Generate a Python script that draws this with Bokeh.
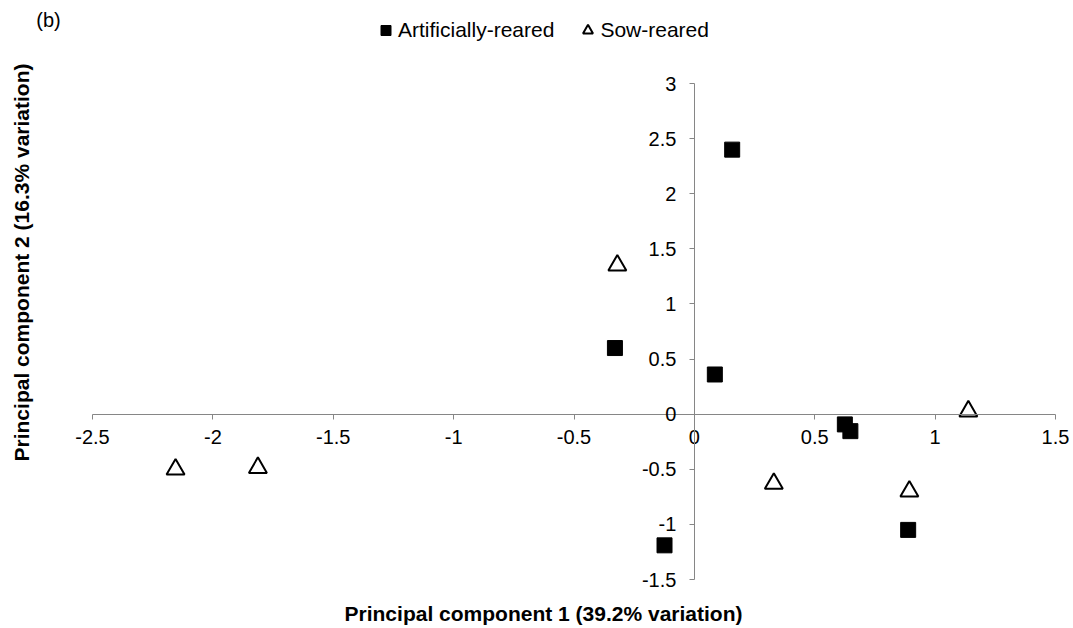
from bokeh.plotting import figure
from bokeh.models import (FixedTicker, Legend, LegendItem, Label, ColumnDataSource, Range1d)
from bokeh.embed import file_html
from bokeh.resources import INLINE
import math

# ---- data ----
series_names = ["Artificially-reared", "Sow-reared"]
art_x = [0.157, -0.33, 0.085, 0.625, 0.648, -0.124, 0.888]
art_y = [2.40, 0.60, 0.36, -0.093, -0.154, -1.19, -1.05]
sow_x = [-0.32, -2.155, -1.813, 0.33, 0.893, 1.138]
sow_y = [1.35, -0.50, -0.486, -0.63, -0.70, 0.027]

x_ticks = [-2.5, -2, -1.5, -1, -0.5, 0, 0.5, 1, 1.5]
x_tick_labels = ["-2.5", "-2", "-1.5", "-1", "-0.5", "0", "0.5", "1", "1.5"]
y_ticks = [-1.5, -1, -0.5, 0, 0.5, 1, 1.5, 2, 2.5, 3]
y_tick_labels = ["-1.5", "-1", "-0.5", "0", "0.5", "1", "1.5", "2", "2.5", "3"]

x_title = "Principal component 1 (39.2% variation)"
y_title = "Principal component 2 (16.3% variation)"
panel_tag = "(b)"

FONT = "Liberation Sans"
AXIS_GREY = "#868686"

W, H = 1073, 628
# plot-area placement inside the canvas (pixels)
PL, PR, PT, PB = 92, 1055, 83, 579
xmin, xmax = x_ticks[0], x_ticks[-1]
ymin, ymax = y_ticks[0], y_ticks[-1]
ux = (PR - PL) / (xmax - xmin)
uy = (PB - PT) / (ymax - ymin)
x_range = Range1d(xmin - PL / ux, xmax + (W - PR) / ux)
y_range = Range1d(ymin - (H - PB) / uy, ymax + PT / uy)

p = figure(width=W, height=H, x_range=x_range, y_range=y_range,
           output_backend="svg", toolbar_location=None,
           min_border=0)
p.outline_line_color = None
p.xgrid.visible = False
p.ygrid.visible = False
p.background_fill_color = "white"
p.border_fill_color = "white"

xa = p.xaxis[0]
ya = p.yaxis[0]
xa.fixed_location = 0
ya.fixed_location = 0
xa.bounds = (xmin, xmax)
ya.bounds = (ymin, ymax)
xa.ticker = FixedTicker(ticks=x_ticks)
ya.ticker = FixedTicker(ticks=y_ticks)
xa.major_label_overrides = dict(zip(x_ticks, x_tick_labels))
ya.major_label_overrides = dict(zip(y_ticks, y_tick_labels))
for ax in (xa, ya):
    ax.axis_line_color = AXIS_GREY
    ax.axis_line_width = 1
    ax.major_tick_line_color = AXIS_GREY
    ax.major_tick_in = 0
    ax.major_tick_out = 5
    ax.minor_tick_line_color = None
    ax.major_label_text_font = FONT
    ax.major_label_text_font_size = "20px"
    ax.major_label_text_color = "black"
xa.major_label_standoff = 11
ya.major_label_standoff = 13

src_a = ColumnDataSource(dict(x=art_x, y=art_y))
src_s = ColumnDataSource(dict(x=sow_x, y=sow_y))
r_a = p.scatter("x", "y", source=src_a, marker="square", size=15,
                fill_color="black", line_color="black")
r_s = p.scatter("x", "y", source=src_s, marker="triangle", size=18,
                fill_color="white", line_color="black", line_width=2)

legend = Legend(items=[LegendItem(label=series_names[0], renderers=[r_a]),
                       LegendItem(label=series_names[1], renderers=[r_s])],
                orientation="horizontal", location=(373, H - 43),
                glyph_width=25, glyph_height=26, label_standoff=0, spacing=21,
                padding=0, margin=0, border_line_color=None,
                background_fill_alpha=0,
                label_text_font=FONT, label_text_font_size="21px",
                label_text_color="black", label_height=26)
p.add_layout(legend, "center")

p.add_layout(Label(x=543, y=H - 613, x_units="screen", y_units="screen", text=x_title,
                   text_font=FONT, text_font_size="21px", text_font_style="bold",
                   text_align="center", text_baseline="middle", text_color="black"))
p.add_layout(Label(x=21, y=H - 262, x_units="screen", y_units="screen", text=y_title,
                   angle=math.pi / 2,
                   text_font=FONT, text_font_size="21px", text_font_style="bold",
                   text_align="center", text_baseline="middle", text_color="black"))
p.add_layout(Label(x=48, y=H - 19, x_units="screen", y_units="screen", text=panel_tag,
                   text_font=FONT, text_font_size="20px",
                   text_align="center", text_baseline="middle", text_color="black"))

open("out.html", "w").write(file_html(p, INLINE))
